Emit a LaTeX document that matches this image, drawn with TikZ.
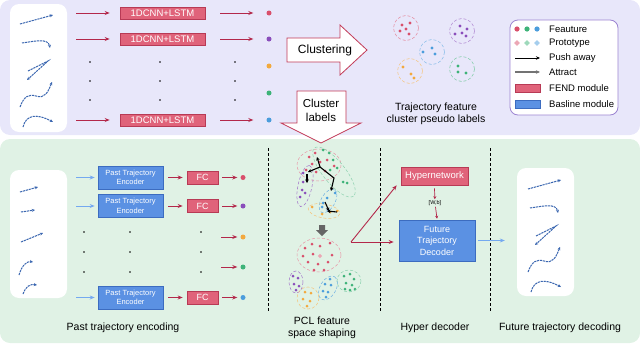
\documentclass[tikz,border=0pt]{standalone}
\usepackage{fontspec}
\setmainfont{Liberation Sans}
\usetikzlibrary{arrows.meta,shapes.geometric}
\definecolor{lavbg}{HTML}{E8E7FA}
\definecolor{greenbg}{HTML}{E0F2E5}
\definecolor{fendred}{HTML}{E0637A}
\definecolor{fendedge}{HTML}{B83A55}
\definecolor{baseblue}{HTML}{5B91E3}
\definecolor{baseedge}{HTML}{3C6CC0}
\definecolor{arrred}{HTML}{B3284A}
\definecolor{arrblue}{HTML}{74A9F0}
\definecolor{trajblue}{HTML}{3A66B0}
\definecolor{blockedge}{HTML}{C23A57}
\definecolor{legedge}{HTML}{9C84D2}
\definecolor{cred}{HTML}{D94F6B}
\definecolor{cpurple}{HTML}{8A4EBB}
\definecolor{corange}{HTML}{F2A93E}
\definecolor{cgreen}{HTML}{3DB378}
\definecolor{cblue}{HTML}{4B9DDC}

\begin{document}
\begin{tikzpicture}[x=1pt, y=-1pt,
	fendbox/.style={draw=fendedge, fill=fendred, text=white, inner sep=0pt, line width=0.6pt},
	basebox/.style={draw=baseedge, fill=baseblue, text=white, inner sep=0pt, align=center, line width=0.6pt},
	whitebox/.style={fill=white, rounded corners=9pt, minimum width=57pt, minimum height=128pt, inner sep=0pt},
	redarrow/.style={arrred, line width=0.9pt, -{Stealth[length=5pt, width=4pt]}},
	smallred/.style={arrred, line width=0.7pt, -{Stealth[length=3pt, width=3pt]}},
	bluearrow/.style={arrblue, line width=0.9pt, -{Stealth[length=5pt, width=4pt]}},
	traj/.style={trajblue, line width=1pt, dash pattern=on 2.2pt off 0.8pt, -{Stealth[length=3.2pt, width=3pt]}},
	feat/.style={circle, inner sep=0pt, minimum size=5pt},
	proto/.style={diamond, inner sep=0pt, minimum size=6pt},
	clus/.style={densely dashed, line width=0.5pt},
	push/.style={black, line width=1.1pt, -{Stealth[length=3.5pt, width=3.5pt]}},
	capt/.style={font=\fontsize{10.5}{12.5}\selectfont, align=center},
	legtext/.style={font=\fontsize{9.5}{11}\selectfont, anchor=west, inner sep=0pt},
	blockarrow/.style={draw=blockedge, fill=white, line width=0.8pt, line join=miter}]
	\useasboundingbox (0,0) rectangle (640,343);
	\fill[lavbg, rounded corners=10pt] (0,0) rectangle (640,135);
	\fill[greenbg, rounded corners=10pt] (0,139) rectangle (640,343);

	% clustering stage
	\node[whitebox] (inbox) at (38.5,68) {};
	\foreach \i/\y in {1/13, 2/39, 5/120}
		\node[fendbox, minimum width=85pt, minimum height=12pt, font=\fontsize{9.5}{10}\selectfont] (c\i) at (162.5,\y) {1DCNN+LSTM};
	\foreach \i/\y/\c in {1/13/cred, 2/39/cpurple, 3/66/corange, 4/93/cgreen, 5/120/cblue}
		\node[feat, fill=\c] (f\i) at (269,\y) {};
	\foreach \i in {1,2,5} {
		\draw[redarrow] ([xshift=9]inbox.east |- c\i) -- ([xshift=-10]c\i.west);
		\draw[redarrow] ([xshift=15]c\i.east) -- ([xshift=-13]f\i.west);
	}
	\foreach \x in {90,160,235}
		\foreach \y in {62,81,100}
			\fill (\x,\y) circle (0.9);

	\draw[blockarrow] (287,38) -- (340,38) -- (340,25) -- (367,50) -- (340,75) -- (340,62) -- (287,62) -- cycle;
	\node[font=\fontsize{12}{14}\selectfont] (clu) at (325,50) {Clustering};

	\foreach \cx/\cy/\c in {406/28/cred, 462/31/cpurple, 432/52/cblue, 410/71/corange, 462/69/cgreen}
		\draw[clus, \c!70] (\cx,\cy) circle (12.5);
	\foreach \c/\pts in {cred/{(402,25),(410,23),(406,29),(400,31),(409,34)},
			cpurple/{(460,26),(455,34),(462,33),(467,29),(466,36)},
			cblue/{(423,52),(432,48),(435,54)},
			corange/{(403,67),(411,74),(414,78)},
			cgreen/{(458,66),(458,72),(466,73)}}
		\foreach \p in \pts
			\fill[\c] \p circle (1.6);
	\node[capt] (t1) at (436,114) {Trajectory feature\\cluster pseudo labels};

	% legend
	\node[draw=legedge, fill=white, rounded corners=8pt, line width=0.8pt, minimum width=108pt, minimum height=95pt] (leg) at (564,67.5) {};
	\node[legtext] (l1) at (549,29) {Feauture};
	\node[legtext] (l2) at (549,43) {Prototype};
	\node[legtext] (l3) at (549,58) {Push away};
	\node[legtext] (l4) at (549,72) {Attract};
	\node[legtext] (l5) at (549,88) {FEND module};
	\node[legtext] (l6) at (549,104) {Basline module};
	\foreach \x/\c in {517/cred, 527/cgreen, 537/cblue} {
		\fill[\c] (\x,29) circle (2.6);
		\node[proto, fill=\c!50] at (\x,43) {};
	}
	\draw[black, line width=0.9pt, -{Stealth[length=4pt, width=3.5pt]}] ([xshift=-34]l3.west) -- ([xshift=-9]l3.west);
	\draw[black!55, line width=1.1pt, -{Stealth[length=4pt, width=3.5pt]}] ([xshift=-34]l4.west) -- ([xshift=-9]l4.west);
	\draw[fendbox] (515,84) rectangle (540,92);
	\draw[basebox] (515,100) rectangle (540,108);

	\draw[blockarrow] (297,91) -- (346,91) -- (346,123) -- (361,123) -- (321,143) -- (281,123) -- (297,123) -- cycle;
	\node[font=\fontsize{11.5}{14}\selectfont, align=center] (lab) at (321,110) {Cluster\\labels};

	% past trajectory encoding
	\node[whitebox] (past) at (38.5,234) {};
	\foreach \i/\y in {1/177.5, 2/206, 5/297.5} {
		\node[basebox, minimum width=65pt, minimum height=23pt, font=\fontsize{7.5}{9.5}\selectfont] (e\i) at (130.5,\y) {Past Trajectory\\Encoder};
		\node[fendbox, minimum width=31pt, minimum height=13pt, font=\fontsize{9}{10}\selectfont] (fc\i) at (202.5,\y) {FC};
	}
	\foreach \i/\y/\c in {1/177.5/cred, 2/206/cpurple, 3/237/corange, 4/267/cgreen, 5/297.5/cblue}
		\node[feat, fill=\c] (g\i) at (243,\y) {};
	\foreach \i in {1,2,5} {
		\draw[bluearrow] ([xshift=9]past.east |- e\i) -- ([xshift=-3]e\i.west);
		\draw[redarrow] ([xshift=5]e\i.east) -- ([xshift=-4]fc\i.west);
		\draw[redarrow] ([xshift=4]fc\i.east) -- ([xshift=-3]g\i.west);
	}
	\foreach \i in {3,4}
		\draw[redarrow] ([xshift=-19]g\i.west) -- ([xshift=-3]g\i.west);
	\foreach \x in {84,130,201}
		\foreach \y in {232,252,272}
			\fill (\x,\y) circle (0.9);
	\node[capt] (t2) at (123,328) {Past trajectory encoding};

	% trajectories, input and output
	\node[whitebox] (fut) at (545.5,232) {};
	\foreach \sx/\sy in {0/0, 508/165} {
		\begin{scope}[shift={(\sx,\sy)}]
			\draw[traj] (20,24) -- (53,15);
			\draw[traj] (22,43) .. controls (36,41) and (48,38) .. (50,48);
			\draw[traj] (28,71) -- (48,61) -- (27,80);
			\draw[traj] (20,107) .. controls (24,96) and (29,94) .. (36,96) .. controls (45,99) and (48,92) .. (52,82);
			\draw[traj] (23,127) .. controls (26,115) and (36,113) .. (53,122);
		\end{scope}
	}
	\draw[traj] (20,192) -- (38,187);
	\draw[traj] (21,212) -- (35,210);
	\draw[traj] (21,242) -- (43,233);
	\draw[traj] (19,275) .. controls (22,265) and (27,261) .. (33,262);
	\draw[traj] (23,294) .. controls (26,286) and (30,284) .. (37,285);

	% separators
	\foreach \x in {268,380,490}
		\draw[densely dashed, line width=0.8pt] (\x,148) -- (\x,312);

	% PCL feature space shaping
	\draw[clus, cred!60] (319,165) ellipse [x radius=22, y radius=16];
	\draw[clus, cgreen!60, rotate around={-51:(334,172)}] (334,172) ellipse [x radius=31, y radius=11];
	\draw[clus, cpurple!80, rotate around={78:(305,186)}] (305,186) ellipse [x radius=21, y radius=7];
	\draw[clus, cblue!80, rotate around={60:(328,201)}] (328,201) ellipse [x radius=13, y radius=7];
	\draw[clus, corange!70, rotate around={-10:(324,211)}] (324,211) ellipse [x radius=16, y radius=7];
	\foreach \c/\pts in {cred/{(309,157),(315,153),(312,164),(320,162),(327,160),(306,170),(316,172),(325,171),(334,166)},
			cgreen/{(323,150),(329,153),(333,160),(330,170),(337,168),(343,182),(347,183)},
			cpurple/{(303,173),(303,182),(302,190),(305,193),(300,197)},
			cblue/{(327,198),(323,203),(322,207),(335,193)},
			corange/{(312,207),(322,214),(330,212),(337,211)},
			cred/{(305,248),(312,244),(320,246),(330,243),(303,256),(313,254),(332,255),(308,262),(318,264),(328,262),(314,270),(324,270)},
			cpurple/{(293,276),(298,278),(294,284),(299,286),(296,290)},
			cblue/{(330,279),(325,284),(331,285),(323,291),(328,292),(326,297)},
			cgreen/{(344,276),(350,274),(354,279),(346,283),(352,285),(345,289),(350,290),(355,289)},
			corange/{(305,292),(311,293),(303,299),(310,301),(307,306)}}
		\foreach \p in \pts
			\fill[\c] \p circle (1.5);
	\node[proto, fill=cred!50, minimum size=4.5pt] (pr1) at (320,256) {};
	\node[proto, fill=cblue!50, minimum size=4.5pt] (pr2) at (328,210) {};
	\draw[push] (320,167) -- (317,157);
	\draw[push] (320,167) -- (308,172);
	\draw[push] (320,167) -- (334,178) -- (331,191);
	\draw[push] (307,174) -- (307,183);
	\draw[push] (325,202) -- (329,211);
	\draw[push] (337,212) -- (327,211);
	\draw[clus, cred!60] (319,255) ellipse [x radius=22, y radius=17];
	\draw[clus, cpurple!80] (296,282) ellipse [x radius=7, y radius=11];
	\draw[clus, cblue!80, rotate around={60:(328,288)}] (328,288) ellipse [x radius=13, y radius=8];
	\draw[clus, cgreen!60] (349,281) ellipse [x radius=12, y radius=11];
	\draw[clus, corange!70] (308,298) circle (11);
	\fill[black!60] (319,225) -- (325,225) -- (325,230) -- (328,230) -- (322,236) -- (316,230) -- (319,230) -- cycle;
	\node[capt] (t3) at (322,328) {PCL feature\\space shaping};

	% hyper decoder
	\node[fendbox, minimum width=67pt, minimum height=18pt, font=\fontsize{9.5}{11}\selectfont] (hyp) at (434.5,176) {Hypernetwork};
	\node[basebox, minimum width=76pt, minimum height=41pt, font=\fontsize{9}{11.5}\selectfont] (dec) at (437,240.5) {Future\\Trajectory\\Decoder};
	\node[font=\fontsize{5.5}{6}\selectfont, inner sep=1pt] (wb) at (435,203) {[W,b]};
	\draw[smallred] ([yshift=-3]hyp.south) -- (wb);
	\draw[smallred] (wb) -- ([yshift=1]dec.north);
	\coordinate (pcl) at (351,242);
	\draw[redarrow] (pcl) -- ([xshift=-4]hyp.south west);
	\draw[redarrow] (pcl) -- ([xshift=-5]dec.west |- pcl);
	\draw[bluearrow] ([xshift=3]dec.east) -- ([xshift=-12]fut.west |- dec);
	\node[capt] (t4) at (435,328) {Hyper decoder};
	\node[capt] (t5) at (560,328) {Future trajectory decoding};
\end{tikzpicture}
\end{document}
